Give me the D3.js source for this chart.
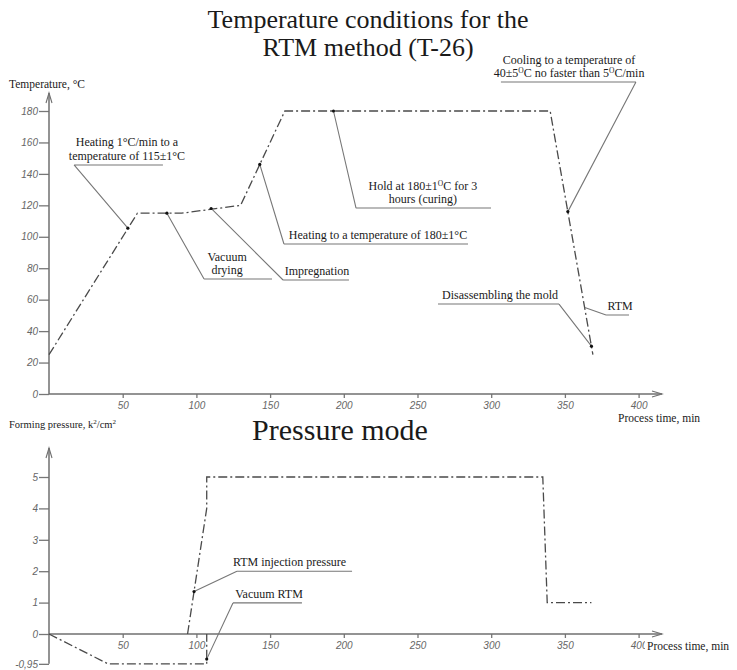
<!DOCTYPE html>
<html>
<head>
<meta charset="utf-8">
<script src="https://cdn.jsdelivr.net/npm/d3@7"></script>
<style>
  body { margin: 0; background: #fff; }
  svg text { font-family: "Liberation Serif", "Times New Roman", serif; fill: #1a1a1a; }
  .tick text { font-family: "Liberation Sans Narrow", "Liberation Sans", sans-serif; font-style: italic; font-stretch: condensed; fill: #666; font-size: 10px; }
  .tick line { stroke: #777; stroke-width: 1.3; }
</style>
</head>
<body>
<div id="chart"></div>
<script>
// temperature curve (min, °C)
const tempTime  = [0, 60, 90, 130, 160, 340, 369];
const tempValue = [25, 115, 115, 120, 180, 180, 25];

// pressure curves (min, kg/cm2)
const vacuumTime  = [0, 40, 107, 107];
const vacuumValue = [0, -0.95, -0.95, 0];
const injectTime  = [94, 107, 107, 335, 338, 368];
const injectValue = [0, 4, 5, 5, 1, 1];

const timeTicks = [50, 100, 150, 200, 250, 300, 350, 400];
const tempTicks = [0, 20, 40, 60, 80, 100, 120, 140, 160, 180];
const pressTicks = [-0.95, 0, 1, 2, 3, 4, 5];

// annotations: text, point on the curve, shelf (t1, t2, level), text centre t, which shelf end the leader uses
const tempNotes = [
  {lines: ["Heating 1°C/min to a", "temperature of 115±1°C"], pt: [53.5, 105.5], shelf: [17, 77.3, 145.7], cx: 52.9, end: 0, dot: true},
  {lines: ["Vacuum", "drying"], pt: [80, 115], shelf: [105.2, 151.3, 73.1], cx: 120.8, end: 0, dot: true},
  {lines: ["Impregnation"], pt: [110, 118], shelf: [158.8, 203.5, 72.5], cx: 181.8, end: 0, dot: true},
  {lines: ["Heating to a temperature of 180±1°C"], pt: [143, 146], shelf: [159.4, 284.3, 95.4], cx: 223.2, end: 0, dot: true},
  {lines: ["Hold at 180±1ᴼC for 3", "hours (curing)"], pt: [193, 180], shelf: [208.3, 299.9, 118.3], cx: 253.7, end: 0, dot: true},
  {lines: ["Cooling to a temperature of", "40±5ᴼC no faster than 5ᴼC/min"], pt: [352, 116], shelf: [306.6, 398.2, 198.4], cx: 352.8, end: 1, dot: true},
  {lines: ["Disassembling the mold"], pt: [368, 30.4], shelf: [263.9, 346, 57.2], cx: 306, end: 1, dot: true},
  {lines: ["RTM"], pt: [363.5, 55], shelf: [377.9, 393.5, 50.2], cx: 387.4, end: 0, dot: false}
];
const pressNotes = [
  {lines: ["RTM injection pressure"], pt: [98.4, 1.35], shelf: [127.5, 205.6, 2.0], cx: 163.2, end: 0, dot: true},
  {lines: ["Vacuum RTM"], pt: [107, -0.8], shelf: [124.8, 171.6, 0.99], cx: 149.3, end: 0, dot: true}
];

const W = 737, H = 670;
const svg = d3.select("#chart").append("svg").attr("width", W).attr("height", H);

const x = d3.scaleLinear().domain([0, 400]).range([49, 638.6]);
const yT = d3.scaleLinear().domain([0, 180]).range([394, 111]);
const yP = d3.scaleLinear().domain([0, 5]).range([634, 477]);

const axisColor = "#707070";
const curveStyle = g => g.attr("fill", "none").attr("stroke", "#4a4a4a")
  .attr("stroke-width", 1.3).attr("stroke-dasharray", "9,3,2,3");

// titles
svg.append("text").attr("x", 368).attr("y", 28).attr("text-anchor", "middle")
  .attr("font-size", 26).text("Temperature conditions for the");
svg.append("text").attr("x", 368).attr("y", 56).attr("text-anchor", "middle")
  .attr("font-size", 26).text("RTM method (T-26)");
svg.append("text").attr("x", 340).attr("y", 440).attr("text-anchor", "middle")
  .attr("font-size", 30).text("Pressure mode");

function drawAxes(y, yTicks, yFmt, yBottom, arrowTop, xLabelX, xLabelY) {
  const g = svg.append("g");
  g.append("g").attr("transform", `translate(${x(0)},0)`)
    .call(d3.axisLeft(y).tickValues(yTicks).tickSize(10).tickPadding(1).tickFormat(yFmt))
    .call(a => a.select(".domain").remove());
  g.append("g").attr("transform", `translate(0,${y(0)})`)
    .call(d3.axisBottom(x).tickValues(timeTicks).tickSize(4).tickPadding(4))
    .call(a => a.select(".domain").remove());

  // axis lines with open arrows
  const xEnd = 662;
  g.append("path").attr("fill", "none").attr("stroke", axisColor).attr("stroke-width", 1.5)
    .attr("d", `M${x(0)},${y(yBottom)}V${arrowTop} M${x(0)},${y(0)}H${xEnd}`);
  g.append("path").attr("fill", "none").attr("stroke", axisColor).attr("stroke-width", 1.1)
    .attr("d", `M${x(0) - 3},${arrowTop + 10}L${x(0)},${arrowTop}L${x(0) + 3},${arrowTop + 10}` +
      `M${xEnd - 10},${y(0) - 3}L${xEnd},${y(0)}L${xEnd - 10},${y(0) + 3}`);

  g.append("rect").attr("x", xLabelX - 2).attr("y", xLabelY - 10).attr("width", 92).attr("height", 13).attr("fill", "#fff");
  g.append("text").attr("x", xLabelX).attr("y", xLabelY).attr("font-size", 11.5).text("Process time, min");
  return g;
}

drawAxes(yT, tempTicks, d => d, 0, 93, 618, 422);
drawAxes(yP, pressTicks, d => d === -0.95 ? "-0,95" : d, -0.95, 448, 647, 650);

svg.append("text").attr("x", 9).attr("y", 88).attr("font-size", 11.5).text("Temperature, °C");
const pl = svg.append("text").attr("x", 9).attr("y", 428).attr("font-size", 10.5);
pl.append("tspan").text("Forming pressure, k");
pl.append("tspan").attr("font-size", 7).attr("dy", -4).text("2");
pl.append("tspan").attr("dy", 4).text("/cm");
pl.append("tspan").attr("font-size", 7).attr("dy", -4).text("2");

// curves
const lineT = d3.line().x(i => x(tempTime[i])).y(i => yT(tempValue[i]));
svg.append("path").datum(d3.range(tempTime.length)).attr("d", lineT).call(curveStyle);

const lineV = d3.line().x(i => x(vacuumTime[i])).y(i => yP(vacuumValue[i]));
svg.append("path").datum(d3.range(vacuumTime.length)).attr("d", lineV).call(curveStyle);
const lineI = d3.line().x(i => x(injectTime[i])).y(i => yP(injectValue[i]));
svg.append("path").datum(d3.range(injectTime.length)).attr("d", lineI).call(curveStyle);

// annotations
function drawNotes(notes, y) {
  notes.forEach(n => {
    const sx = x(n.shelf[n.end]), sy = y(n.shelf[2]);
    svg.append("path").attr("fill", "none").attr("stroke", "#777").attr("stroke-width", 1.1)
      .attr("d", `M${x(n.pt[0])},${y(n.pt[1])}L${sx},${sy}M${x(n.shelf[0])},${sy}H${x(n.shelf[1])}`);
    if (n.dot) svg.append("circle").attr("cx", x(n.pt[0])).attr("cy", y(n.pt[1])).attr("r", 1.6).attr("fill", "#111");
    n.lines.forEach((line, i) => {
      const t = svg.append("text").attr("x", x(n.cx))
        .attr("y", sy - 5 - (n.lines.length - 1 - i) * 13.5)
        .attr("text-anchor", "middle").attr("font-size", 12);
      // superscript "O" used as degree sign
      line.split("ᴼ").forEach((part, k) => {
        if (k > 0) t.append("tspan").attr("font-size", 7.5).attr("dy", -4).text("O");
        t.append("tspan").attr("dy", k > 0 ? 4 : 0).text(part);
      });
    });
  });
}
drawNotes(tempNotes, yT);
drawNotes(pressNotes, yP);
</script>
</body>
</html>
